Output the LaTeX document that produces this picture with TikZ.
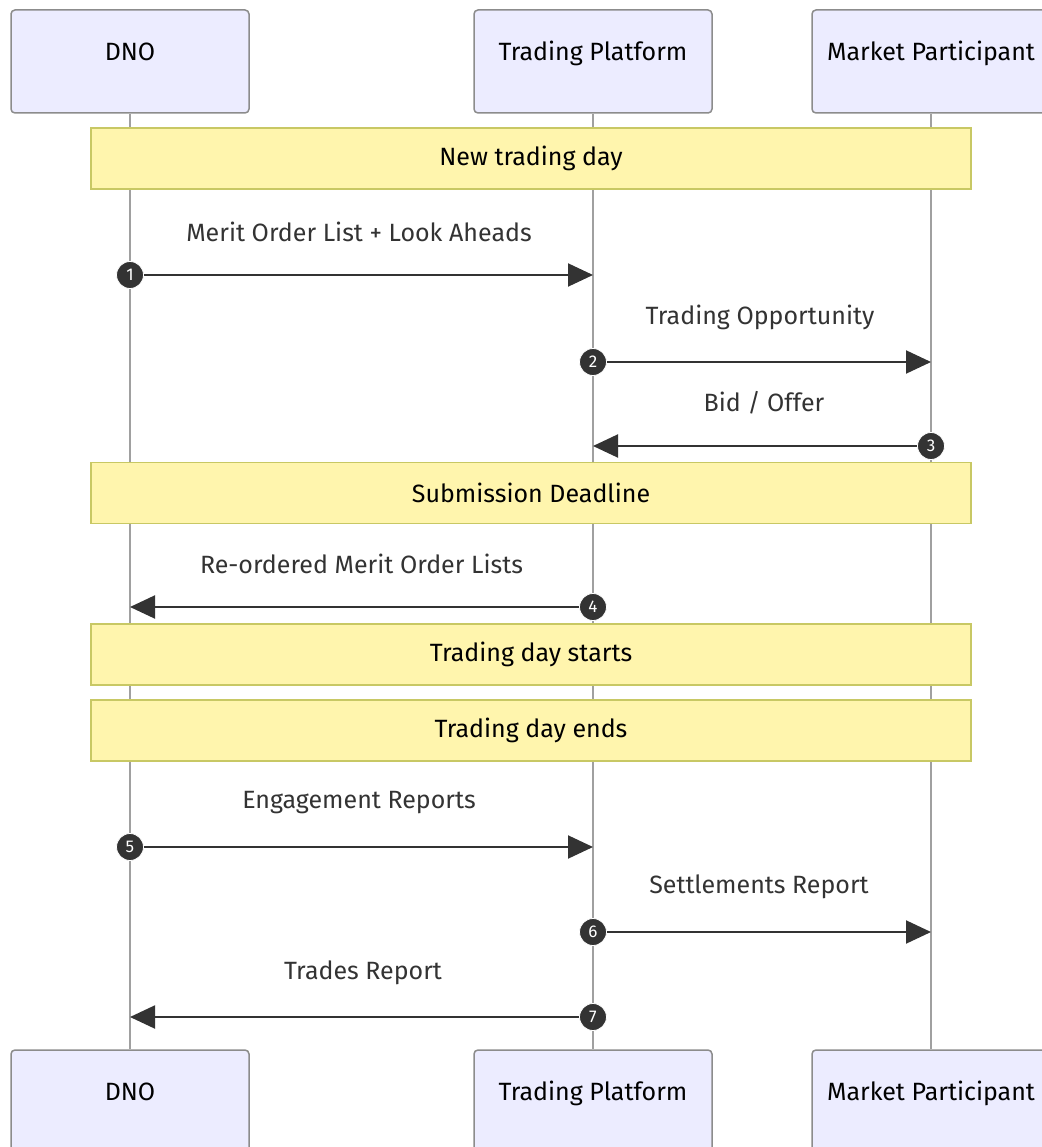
\documentclass[tikz,border=0pt]{standalone}
\usepackage{fontspec}
\setmainfont{Fira Sans}
\usetikzlibrary{arrows.meta}
\definecolor{actorfill}{HTML}{ECECFF}
\definecolor{actorline}{HTML}{8C8C8C}
\definecolor{notefill}{HTML}{FFF5AD}
\definecolor{noteline}{HTML}{C8C864}
\definecolor{msgcol}{HTML}{333333}
\definecolor{lifecol}{HTML}{A0A0A0}
\tikzset{
  actor/.style={draw=actorline, line width=1.5pt, fill=actorfill, rounded corners=4pt,
    minimum width=238pt, minimum height=103pt, inner sep=0pt,
    font=\fontsize{25}{29}\selectfont, text=black, text height=18pt, text depth=20pt},
  note/.style={draw=noteline, line width=1.2pt, fill=notefill, minimum width=880pt,
    minimum height=61pt, inner sep=0pt, font=\fontsize{25}{29}\selectfont, text=black},
  life/.style={draw=lifecol, line width=2pt},
  msg/.style={draw=msgcol, line width=2pt, -{Triangle[length=25pt,width=23pt]}},
  num/.style={circle, fill=msgcol, draw=white, line width=0.8pt, minimum size=27pt, inner sep=0pt,
    text=white, font=\fontsize{17}{17}\selectfont},
  lbl/.style={font=\fontsize{25}{29}\selectfont, text=msgcol, inner sep=0pt}
}
\begin{document}
\begin{tikzpicture}[x=1pt,y=-1pt]
\useasboundingbox (0,0) rectangle (1041,1147);
\fill[white] (0,0) rectangle (1041,1147);
% actors
\node[actor] (dnoT) at (130,61.5) {DNO};
\node[actor] (tpT) at (593,61.5) {Trading Platform};
\node[actor] (mpT) at (931,61.5) {Market Participant};
\node[actor] (dnoB) at (130,1101.5) {DNO};
\node[actor] (tpB) at (593,1101.5) {Trading Platform};
\node[actor] (mpB) at (931,1101.5) {Market Participant};
% lifelines
\draw[life] (dnoT.south) -- (dnoB.north);
\draw[life] (tpT.south) -- (tpB.north);
\draw[life] (mpT.south) -- (mpB.north);
% notes
\node[note] (n1) at (531,158.5) {New trading day};
\node[note] (n2) at (531,493) {Submission Deadline};
\node[note] (n3) at (531,654.5) {Trading day starts};
\node[note] (n4) at (531,730.5) {Trading day ends};
% messages
\coordinate (e1) at (593,275);
\node[num] (c1) at (130,275) {1};
\draw[msg] (c1) -- (e1);
\node[lbl] (l1) at (359,232) {Merit Order List + Look Aheads};

\coordinate (e2) at (931,362);
\node[num] (c2) at (593,362) {2};
\draw[msg] (c2) -- (e2);
\node[lbl] (l2) at (760,317) {Trading Opportunity};

\coordinate (e3) at (593,446);
\node[num] (c3) at (931,446) {3};
\draw[msg] (c3) -- (e3);
\node[lbl] (l3) at (764,403) {Bid / Offer};

\coordinate (e4) at (130,607);
\node[num] (c4) at (593,607) {4};
\draw[msg] (c4) -- (e4);
\node[lbl] (l4) at (361.5,564) {Re-ordered Merit Order Lists};

\coordinate (e5) at (593,847);
\node[num] (c5) at (130,847) {5};
\draw[msg] (c5) -- (e5);
\node[lbl] (l5) at (359,803) {Engagement Reports};

\coordinate (e6) at (931,932);
\node[num] (c6) at (593,932) {6};
\draw[msg] (c6) -- (e6);
\node[lbl] (l6) at (759,887) {Settlements Report};

\coordinate (e7) at (130,1017);
\node[num] (c7) at (593,1017) {7};
\draw[msg] (c7) -- (e7);
\node[lbl] (l7) at (363,973) {Trades Report};
\end{tikzpicture}
\end{document}
